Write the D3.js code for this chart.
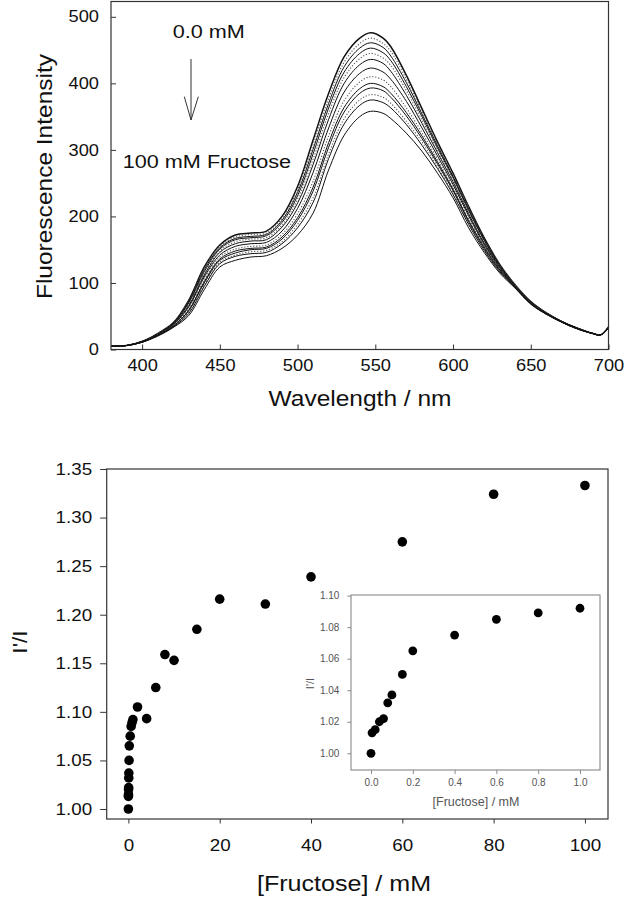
<!DOCTYPE html>
<html><head><meta charset="utf-8">
<script src="https://cdn.jsdelivr.net/npm/d3@7"></script>
<style>body{margin:0;background:#fff} svg{display:block} text{font-family:"Liberation Sans",Arial,Helvetica,sans-serif}</style>
</head><body><svg id="c" width="625" height="900"></svg>
<script>
// ---------- data: top panel (fluorescence spectra) ----------
const wavelengths = [380,390,400,410,420,430,440,450,460,470,480,490,500,510,520,530,540,547,555,560,570,580,590,600,610,620,630,640,650,660,670,680,690,695,700];
const spec00 = [5,6,12,24,40,74,124,157,172,175,178,200,245,315,385,440,468,476,468,455,412,362,312,265,215,168,128,97,72,55,42,32,24,22,34];
const spec01 = [5,6,12,24,40,72,122,155,169,173,175,197,240,308,377,432,460,468,460,448,406,358,309,262,213,166,127,97,72,55,42,32,24,22,34];
const spec02 = [5,6,12,23,39,71,120,153,167,170,173,194,236,301,370,425,453,461,454,441,401,354,306,260,211,165,126,96,72,55,42,32,24,22,34];
const spec03 = [5,6,12,23,39,70,117,151,165,168,171,191,231,294,363,417,445,453,446,434,395,350,303,258,209,164,125,96,71,55,42,32,24,22,34];
const spec04 = [5,6,12,23,38,68,115,148,162,166,168,187,226,286,355,409,437,445,438,427,389,345,300,255,207,162,125,96,71,55,42,32,24,22,34];
const spec05 = [5,6,12,23,38,66,112,146,159,163,165,184,220,278,346,400,428,436,430,418,382,340,296,252,204,160,124,95,71,54,42,32,24,22,34];
const spec06 = [5,6,12,22,37,64,109,142,155,159,161,178,212,266,333,387,415,423,417,406,373,333,291,248,201,158,122,95,70,54,42,32,24,22,34];
const spec07 = [5,6,11,22,36,61,105,139,151,155,157,173,204,253,321,374,402,410,405,395,363,326,286,244,197,156,121,94,70,54,41,31,24,22,33];
const spec08 = [5,6,11,21,35,59,102,136,148,152,154,169,198,244,311,364,392,400,395,385,356,321,282,241,194,154,120,94,69,54,41,31,24,22,33];
const spec09 = [5,6,11,21,35,58,100,134,145,150,152,166,194,238,304,357,385,393,389,379,351,317,279,239,192,152,119,93,69,54,41,31,24,22,33];
const spec10 = [5,6,11,21,34,56,97,131,142,147,149,162,188,228,294,347,375,383,379,370,343,312,275,236,190,151,118,93,69,53,41,31,24,22,33];
const spec11 = [5,6,11,21,34,54,95,129,140,144,146,159,183,221,287,339,367,375,371,363,338,307,272,233,188,149,117,93,69,53,41,31,24,22,33];
const spec12 = [5,6,11,20,33,51,90,124,134,139,141,152,172,205,270,322,350,358,355,347,325,298,265,228,183,146,115,92,68,53,41,31,24,22,33];
const spectra = [spec00,spec01,spec02,spec03,spec04,spec05,spec06,spec07,spec08,spec09,spec10,spec11,spec12];
const spectrumDotted = [false,true,false,false,true,false,false,true,false,false,true,false,false];
const topXTicks = [400,450,500,550,600,650,700];
const topYTicks = [0,100,200,300,400,500];

// ---------- data: bottom panel (I'/I vs [Fructose]) ----------
const fructoseMain = [0,0.005,0.02,0.04,0.06,0.08,0.1,0.15,0.2,0.4,0.6,0.8,1.0,2,4,6,8,10,15,20,30,40,60,80,100];
const ratioMain    = [1.000,1.013,1.015,1.020,1.022,1.032,1.037,1.050,1.065,1.075,1.085,1.089,1.092,1.105,1.093,1.125,1.159,1.153,1.185,1.216,1.211,1.239,1.275,1.324,1.333];
const fructoseInset = [0,0.005,0.02,0.04,0.06,0.08,0.1,0.15,0.2,0.4,0.6,0.8,1.0];
const ratioInset    = [1.000,1.013,1.015,1.020,1.022,1.032,1.037,1.050,1.065,1.075,1.085,1.089,1.092];
const mainXTicks = [0,20,40,60,80,100];
const mainYTicks = [1.00,1.05,1.10,1.15,1.20,1.25,1.30,1.35];
const insetXTicks = [0,0.2,0.4,0.6,0.8,1.0];
const insetYTicks = [1.00,1.02,1.04,1.06,1.08,1.10];

// ---------- drawing ----------
const svg = d3.select("#c");
const SX = 1.14;
function stretch(sel, sx){
  sel.each(function(){
    const t = d3.select(this);
    const x = +t.attr("x") || 0, y = +t.attr("y") || 0;
    t.attr("x",0).attr("y",0).attr("transform",`translate(${x},${y}) scale(${sx},1)`);
  });
}
function styleAxis(g, size, color, sx){
  g.select(".domain").remove();
  g.selectAll(".tick line").attr("stroke", color).attr("stroke-width",1);
  g.selectAll(".tick text").attr("fill", color === "#333" ? "#111" : "#555")
    .attr("font-size", size).attr("font-family", '"Liberation Sans",Arial,sans-serif');
  g.attr("font-family", null).attr("font-size", null);
  stretch(g.selectAll(".tick text"), sx);
}
function label(txt, x, y, size, opts={}){
  const t = svg.append("text").text(txt).attr("font-size", size)
    .attr("fill", opts.fill || "#111").attr("text-anchor", opts.anchor || "middle");
  const sx = opts.sx || SX;
  t.attr("transform", `translate(${x},${y})` + (opts.rot ? ` rotate(${opts.rot})` : "") + ` scale(${sx},1)`);
  return t;
}

// Top panel
const xT = d3.scaleLinear().domain([380,700]).range([111,608.5]);
const yT = d3.scaleLinear().domain([0,523]).range([349.5,1.5]);
const lineT = d3.line().x((d,i)=>xT(wavelengths[i])).y(d=>yT(d)).curve(d3.curveCatmullRom.alpha(0.5));
const gSpec = svg.append("g");
spectra.forEach((s,k)=>{
  gSpec.append("path").attr("d", lineT(s)).attr("fill","none")
    .attr("stroke", spectrumDotted[k] ? "#555" : "#111")
    .attr("stroke-width", k===0 ? 1.5 : (spectrumDotted[k] ? 1.1 : 1.0))
    .attr("stroke-dasharray", spectrumDotted[k] ? "1.2,1.8" : null);
});
svg.append("rect").attr("x",111).attr("y",1.5).attr("width",608.5-111).attr("height",348)
  .attr("fill","none").attr("stroke","#333").attr("stroke-width",1.2);
const axTX = svg.append("g").attr("transform","translate(0,349.5)")
  .call(d3.axisBottom(xT).tickValues(topXTicks).tickSizeInner(-5).tickSizeOuter(0).tickPadding(10).tickFormat(d3.format("d")));
styleAxis(axTX, 16, "#333", SX);
const axTY = svg.append("g").attr("transform","translate(111,0)")
  .call(d3.axisLeft(yT).tickValues(topYTicks).tickSizeInner(-5).tickSizeOuter(0).tickPadding(12).tickFormat(d3.format("d")));
styleAxis(axTY, 16, "#333", SX);
label("Fluorescence Intensity", 52, 176.5, 21.5, {rot:-90});
label("Wavelength / nm", 360, 406, 21.5);
label("0.0 mM", 172.7, 38.3, 19, {anchor:"start"});
label("100 mM Fructose", 122.7, 168.3, 19, {anchor:"start"});
svg.append("line").attr("x1",191).attr("y1",59).attr("x2",191).attr("y2",120).attr("stroke","#333").attr("stroke-width",1);
svg.append("polyline").attr("points","184.3,96.7 191,120 198.3,96.7").attr("fill","none").attr("stroke","#333").attr("stroke-width",1);

// Bottom main panel
const xB = d3.scaleLinear().domain([-4.75,105.05]).range([106.7,608]);
const yB = d3.scaleLinear().domain([0.9897,1.35]).range([819,469]);
svg.append("rect").attr("x",106.7).attr("y",469).attr("width",608-106.7).attr("height",350)
  .attr("fill","none").attr("stroke","#333").attr("stroke-width",1.2);
const axBX = svg.append("g").attr("transform","translate(0,819)")
  .call(d3.axisBottom(xB).tickValues(mainXTicks).tickSizeInner(4.5).tickSizeOuter(0).tickPadding(16).tickFormat(d3.format("d")));
styleAxis(axBX, 16.5, "#333", SX);
const axBY = svg.append("g").attr("transform","translate(106.7,0)")
  .call(d3.axisLeft(yB).tickValues(mainYTicks).tickSizeInner(6.5).tickSizeOuter(0).tickPadding(8).tickFormat(d3.format(".2f")));
styleAxis(axBY, 16.5, "#333", SX);
svg.append("g").selectAll("circle").data(fructoseMain).join("circle")
  .attr("cx",(d)=>xB(d)).attr("cy",(d,i)=>yB(ratioMain[i])).attr("r",4.8).attr("fill","#000");
label("I'/I", 27, 642, 20, {rot:-90});
label("[Fructose] / mM", 344, 891, 22);

// Inset
const xI = d3.scaleLinear().domain([-0.0957,1.0957]).range([351,600]);
const yI = d3.scaleLinear().domain([0.9894,1.1004]).range([770,595]);
svg.append("rect").attr("x",351).attr("y",595).attr("width",249).attr("height",175)
  .attr("fill","#fff").attr("stroke","#888").attr("stroke-width",1.1);
const axIX = svg.append("g").attr("transform","translate(0,770)")
  .call(d3.axisBottom(xI).tickValues(insetXTicks).tickSizeInner(4).tickSizeOuter(0).tickPadding(5).tickFormat(d3.format(".1f")));
styleAxis(axIX, 10, "#888", 1);
const axIY = svg.append("g").attr("transform","translate(351,0)")
  .call(d3.axisLeft(yI).tickValues(insetYTicks).tickSizeInner(3.6).tickSizeOuter(0).tickPadding(8).tickFormat(d3.format(".2f")));
styleAxis(axIY, 10, "#888", 1);
svg.append("g").selectAll("circle").data(fructoseInset).join("circle")
  .attr("cx",(d)=>xI(d)).attr("cy",(d,i)=>yI(ratioInset[i])).attr("r",4.4).attr("fill","#000");
label("I'/I", 314, 683.5, 11, {rot:-90, sx:1, fill:"#555"});
label("[Fructose] / mM", 476, 806, 12.5, {sx:1, fill:"#555"});
</script></body></html>
